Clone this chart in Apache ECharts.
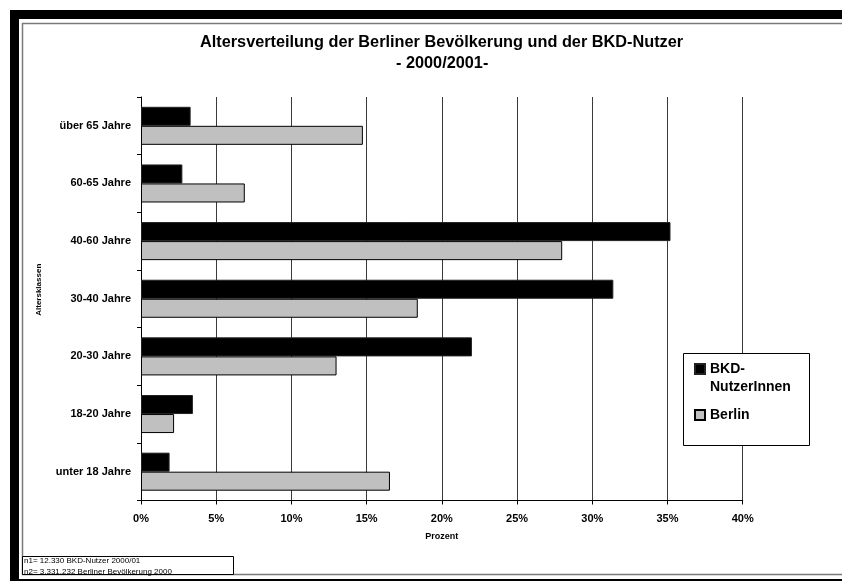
<!DOCTYPE html>
<html>
<head>
<meta charset="utf-8">
<script src="https://cdn.jsdelivr.net/npm/echarts@6/dist/echarts.min.js"></script>
<style>
html,body{margin:0;padding:0;background:#fff;}
#chart{width:842px;height:581px;}
</style>
</head>
<body>
<div id="chart"></div>
<script>
const categories = ['unter 18 Jahre','18-20 Jahre','20-30 Jahre','30-40 Jahre','40-60 Jahre','60-65 Jahre','über 65 Jahre'];
const bkdValues = [1.9, 3.45, 22.0, 31.4, 35.2, 2.75, 3.3];
const berlinValues = [16.55, 2.2, 13.0, 18.4, 28.0, 6.9, 14.75];
const xTicks = [0,5,10,15,20,25,30,35,40];
const titleText = 'Altersverteilung der Berliner Bevölkerung und der BKD-Nutzer';
const subtitleText = '- 2000/2001-';
const footnotes = ['n1= 12.330 BKD-Nutzer 2000/01','n2= 3.331.232 Berliner Bevölkerung 2000'];

const FONT = 'Liberation Sans, Arial, sans-serif';
const chart = echarts.init(document.getElementById('chart'), null, {renderer:'canvas'});

const option = {
  backgroundColor:'#fff',
  animation:false,
  textStyle:{fontFamily:FONT},
  title:[
    {
      text:titleText,
      left:200,
      top:35,
      padding:0,
      textStyle:{fontFamily:FONT,fontSize:16.3,fontWeight:'bold',color:'#000'}
    },
    {
      text:subtitleText,
      left:396,
      top:56,
      padding:0,
      textStyle:{fontFamily:FONT,fontSize:16.3,fontWeight:'bold',color:'#000'}
    }
  ],
  grid:{left:141,right:99.3,top:97,bottom:80.5,containLabel:false},
  xAxis:{
    type:'value',
    min:xTicks[0], max:xTicks[xTicks.length-1], interval:5,
    name:'Prozent',
    nameLocation:'middle',
    nameGap:32,
    nameTextStyle:{fontFamily:FONT,fontSize:9,fontWeight:'bold',color:'#000'},
    axisLine:{show:true,lineStyle:{color:'#000',width:1}},
    axisTick:{show:true,length:4,lineStyle:{color:'#000'}},
    axisLabel:{margin:13,formatter:'{value}%',fontFamily:FONT,fontSize:11,fontWeight:'bold',color:'#000'},
    splitLine:{show:true,lineStyle:{color:'#3a3a3a',width:1}}
  },
  yAxis:{
    type:'category',
    data:categories,
    name:'Altersklassen',
    nameLocation:'middle',
    nameGap:98,
    nameRotate:90,
    nameTextStyle:{fontFamily:FONT,fontSize:8,fontWeight:'bold',color:'#000',padding:[0,0,0,18]},
    axisLine:{show:true,lineStyle:{color:'#000',width:1}},
    axisTick:{show:true,length:4,lineStyle:{color:'#000'}},
    axisLabel:{margin:10,fontFamily:FONT,fontSize:11,fontWeight:'bold',color:'#000'},
    splitLine:{show:false}
  },
  legend:{
    orient:'vertical',
    left:694,
    top:342,
    padding:0,
    icon:'rect',
    itemWidth:10,
    itemHeight:10,
    itemGap:10,
    z:8,
    selectedMode:false,
    formatter:function(n){ return n === 'BKD-NutzerInnen' ? '{p| }\nBKD-\nNutzerInnen' : n; },
    textStyle:{fontFamily:FONT,fontSize:14,fontWeight:'bold',color:'#000',lineHeight:18,
      rich:{p:{fontSize:14,lineHeight:18}}},
    data:['BKD-NutzerInnen','Berlin']
  },
  graphic:[
    {type:'rect',z:1,shape:{x:10,y:10,width:832,height:9},style:{fill:'#000'}},
    {type:'rect',z:1,shape:{x:10,y:10,width:9,height:571},style:{fill:'#000'}},
    {type:'rect',z:1,shape:{x:10,y:579,width:832,height:2},style:{fill:'#000'}},
    {type:'polyline',z:1,shape:{points:[[842,23.5],[22.5,23.5],[22.5,574.5],[842,574.5]]},style:{stroke:'#7a7a7a',lineWidth:1.5,fill:null}},
    {type:'rect',z:6,shape:{x:683.5,y:353.5,width:126,height:92},style:{fill:'#fff',stroke:'#000',lineWidth:1}},
    {type:'rect',z:6,shape:{x:22.5,y:556.5,width:211,height:18},style:{fill:'#fff',stroke:'#000',lineWidth:1}},
    {type:'text',z:7,x:24,y:561,style:{text:footnotes[0],fontFamily:FONT,fontSize:8,fill:'#000',verticalAlign:'middle'}},
    {type:'text',z:7,x:24,y:571.5,style:{text:footnotes[1],fontFamily:FONT,fontSize:8,fill:'#000',verticalAlign:'middle'}}
  ],
  series:[
    {
      name:'BKD-NutzerInnen',
      type:'bar',
      data:bkdValues,
      barGap:'0%',
      barCategoryGap:'34%',
      itemStyle:{color:'#000',borderColor:'#222',borderWidth:1}
    },
    {
      name:'Berlin',
      type:'bar',
      data:berlinValues,
      barGap:'0%',
      barCategoryGap:'34%',
      itemStyle:{color:'#c0c0c0',borderColor:'#000',borderWidth:1}
    }
  ]
};
chart.setOption(option);
</script>
</body>
</html>
